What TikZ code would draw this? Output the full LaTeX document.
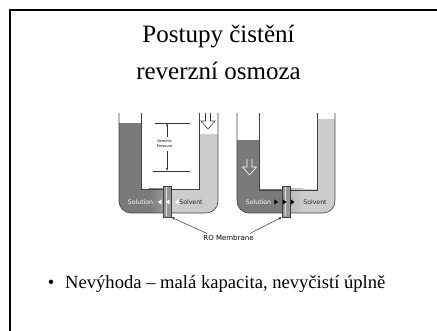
\documentclass[tikz,border=0pt]{standalone}
\usepackage{fontspec}
\setmainfont{Liberation Serif}
\newfontfamily\labelfont{DejaVu Sans}
\usetikzlibrary{arrows.meta}

\definecolor{solution}{RGB}{122,122,122}
\definecolor{solutionlight}{RGB}{160,160,160}
\definecolor{solvent}{RGB}{204,204,204}
\definecolor{membranegray}{RGB}{150,150,150}

\begin{document}
\begin{tikzpicture}[x=1pt,y=-1pt,
  wall/.style={draw=black!75, line width=0.6pt},
  membranebox/.style={draw=black!75, fill=membranegray, line width=0.5pt,
    minimum width=8pt, minimum height=31pt, inner sep=0pt},
  fluidtext/.style={font=\labelfont\fontsize{6.2}{7}\selectfont, inner sep=0pt},
  smalltext/.style={font=\labelfont\fontsize{3.6}{4.6}\selectfont, inner sep=0pt, align=center},
  pointer/.style={draw=black!80, line width=0.5pt, -{Stealth[length=3.5pt,width=2.6pt]}},
  gauge/.style={draw=black!80, line width=0.45pt, -{Stealth[length=3pt,width=2.4pt]}},
  titletext/.style={font=\fontsize{25}{30}\selectfont, inner sep=0pt, anchor=base},
  bodytext/.style={font=\fontsize{18.6}{22}\selectfont, inner sep=0pt, anchor=base west},
]
\useasboundingbox (0,0) rectangle (437,331);

% slide frame
\draw[line width=2pt] (10,331) -- (10,10) -- (437,10);

% title
\node[titletext] (title1) at (218.5,43) {Postupy čistění};
\node[titletext] (title2) at (218.5,80) {reverzní osmoza};

% ---------- left U-tube: osmosis ----------
\begin{scope}[shift={(119,113)}]
  \begin{scope}
    \clip[rounded corners=12] (0,-20) -- (0,100) -- (99,100) -- (99,-20) -- cycle;
    \fill[solution] (0,10) rectangle (22,100);
    \fill[solution] (0,76) rectangle (48,100);
    \shade[left color=solution, right color=solutionlight] (30,76) rectangle (48,100);
    \fill[solvent] (80,21) rectangle (99,100);
    \fill[solvent] (48,76) rectangle (99,100);
  \end{scope}
  \draw[wall, rounded corners=12] (0,0) -- (0,100) -- (99,100) -- (99,0);
  \draw[wall] (22,0) -- (22,76) -- (80,76) -- (80,0);
  % applied pressure
  \draw[wall, fill=white] (86.5,0) -- (86.5,8) -- (82,8) -- (89,16) -- (96,8) -- (91.5,8) -- (91.5,0);
  % osmotic pressure gauge
  \draw[black!80, line width=0.45pt] (36,10) -- (71,10);
  \draw[black!80, line width=0.45pt] (34,58) -- (71,58);
  \node[smalltext] (osm1) at (45.5,30.5) {Osmotic\\Pressure};
  \draw[gauge] (48,24) -- (48,10.4);
  \draw[gauge] (48,38) -- (48,57.6);
  % membrane
  \node[membranebox] (m1) at (48,88.5) {};
  \draw[white!75!gray, line width=0.8pt] (47,74) -- (47,103);
  % flow marks
  \foreach \x in {39,47,56}
    \fill[white] (\x,89) -- ++(3.6,-2.6) -- ++(0,5.2) -- cycle;
  \node[fluidtext, text=white] (sol1) at (21.5,89) {Solution};
  \node[fluidtext, text=black!85] (sv1) at (72,89) {Solvent};
\end{scope}

% ---------- right U-tube: reverse osmosis ----------
\begin{scope}[shift={(237,113)}]
  \begin{scope}
    \clip[rounded corners=12] (0,-20) -- (0,100) -- (98,100) -- (98,-20) -- cycle;
    \fill[solution] (0,27) rectangle (22,100);
    \fill[solution] (0,76) rectangle (49,100);
    \fill[solvent] (80,6) rectangle (98,100);
    \fill[solvent] (49,76) rectangle (98,100);
    \shade[left color=solvent!70!gray, right color=solvent] (49,76) rectangle (66,100);
  \end{scope}
  \draw[wall, rounded corners=12] (0,0) -- (0,100) -- (98,100) -- (98,0);
  \draw[wall] (22,0) -- (22,77) -- (80,77) -- (80,0);
  % applied pressure
  \draw[white, line width=0.6pt] (10,46) -- (10,54) -- (5.5,54) -- (12.5,62) -- (19.5,54) -- (15,54) -- (15,46);
  % membrane
  \node[membranebox] (m2) at (49,88.5) {};
  \draw[white!75!gray, line width=0.8pt] (48,74) -- (48,103);
  % flow marks
  \foreach \x in {41,49.5,57.5}
    \fill[black] (\x,89) -- ++(-3.6,-2.6) -- ++(0,5.2) -- cycle;
  \node[fluidtext, text=white] (sol2) at (21.5,89) {Solution};
  \node[fluidtext, text=black!85] (sv2) at (78,89) {Solvent};
\end{scope}

% membrane callout
\node[font=\labelfont\fontsize{7}{8}\selectfont, inner sep=0pt] (ro) at (228.5,237.5) {RO Membrane};
\draw[pointer] ([xshift=4pt,yshift=1pt]ro.north west) -- (m1.south east);
\draw[pointer] ([xshift=-4pt,yshift=1pt]ro.north east) -- (m2.south west);

% bullet point
\node[bodytext] (dot) at (47.6,289) {\textbullet};
\node[bodytext] (con) at (65,289) {Nevýhoda – malá kapacita, nevyčistí úplně};
\end{tikzpicture}
\end{document}
